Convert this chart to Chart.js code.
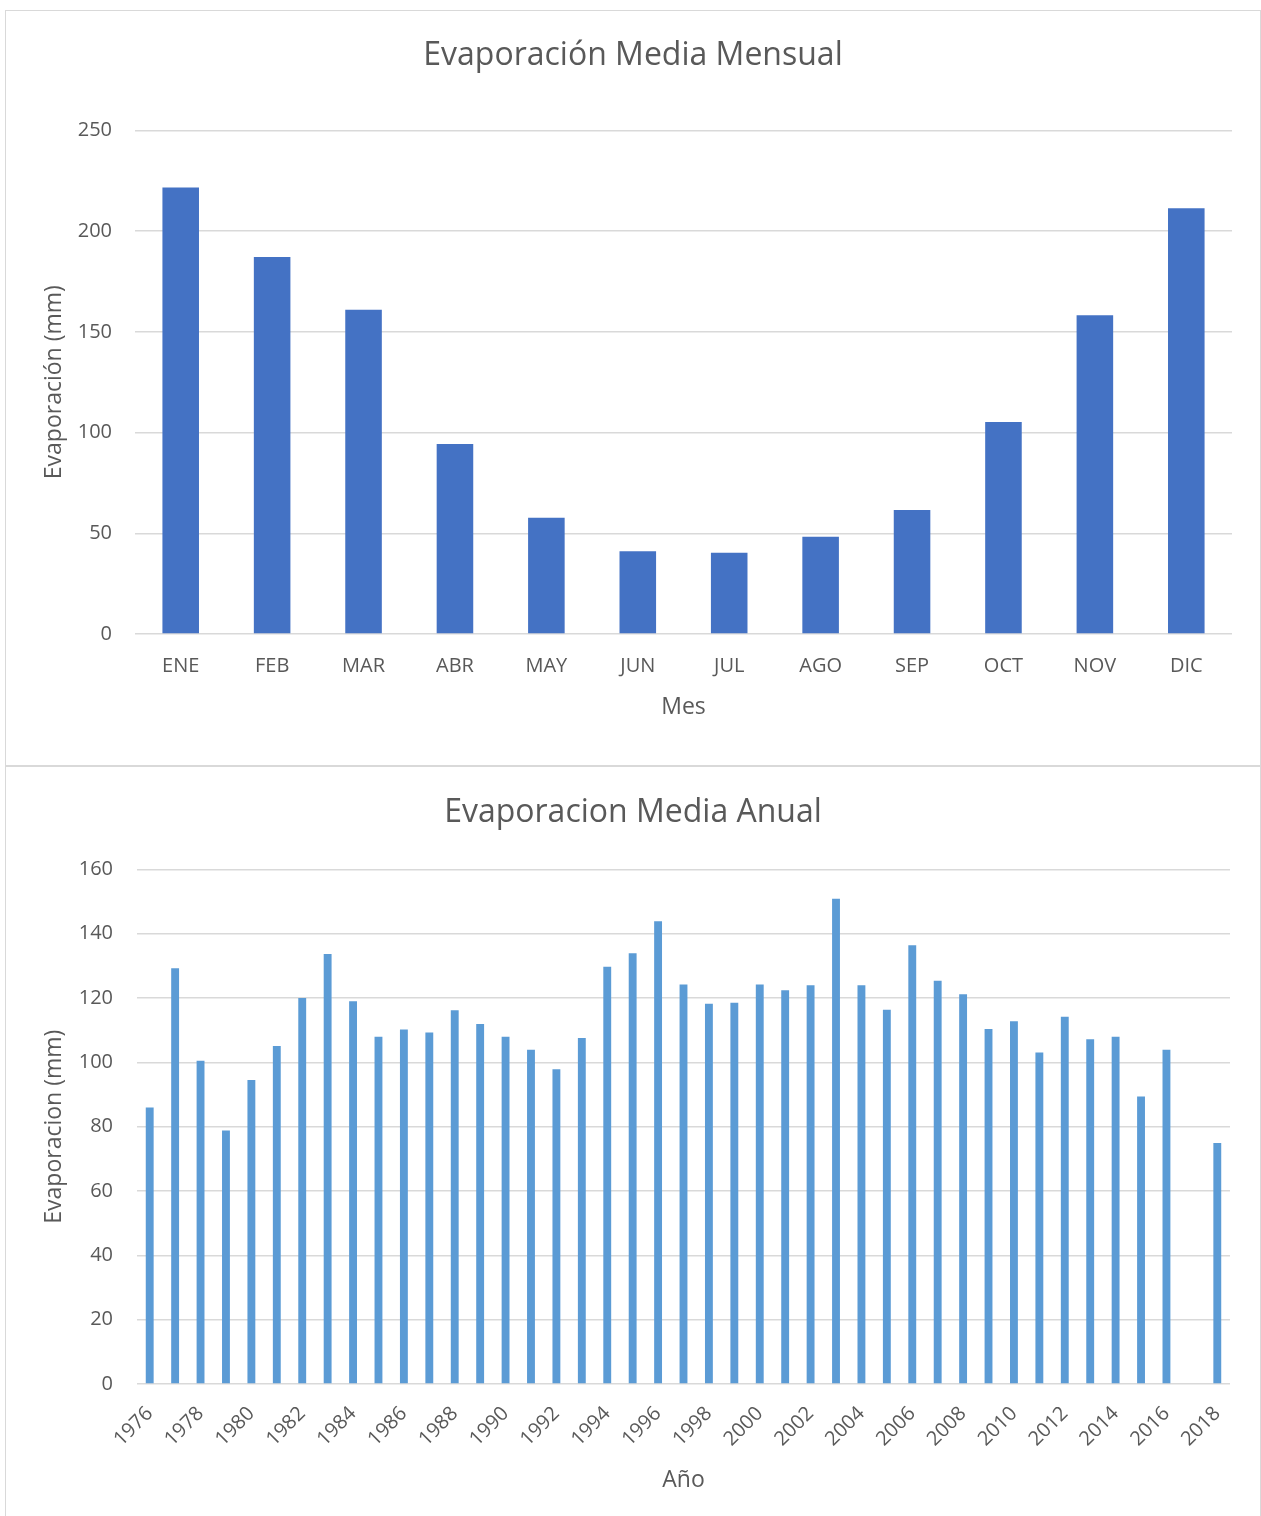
<!DOCTYPE html>
<html>
<head>
<meta charset="utf-8">
<script src="https://cdn.jsdelivr.net/npm/chart.js@4.4.1/dist/chart.umd.min.js"></script>
<style>
  body { margin: 0; background: #fff; }
  .box { position: absolute; left: 5px; width: 1254px; height: 754px; border: 1px solid #d9d9d9; background: #fff; }
  #box1 { top: 10px; }
  #box2 { top: 766px; }
</style>
</head>
<body>
<div class="box" id="box1"><canvas id="mensual" width="1254" height="754"></canvas></div>
<div class="box" id="box2"><canvas id="anual" width="1254" height="754"></canvas></div>
<script>
// Datos mensuales
const meses = ['ENE', 'FEB', 'MAR', 'ABR', 'MAY', 'JUN', 'JUL', 'AGO', 'SEP', 'OCT', 'NOV', 'DIC'];
const evapMensual = [221.6, 187.1, 161.0, 94.3, 57.7, 41.1, 40.3, 48.3, 61.6, 105.2, 158.2, 211.3];
const ticksMensual = [0, 50, 100, 150, 200, 250];

// Datos anuales (2017 sin dato)
const anios = [1976, 1977, 1978, 1979, 1980, 1981, 1982, 1983, 1984, 1985, 1986, 1987, 1988, 1989,
  1990, 1991, 1992, 1993, 1994, 1995, 1996, 1997, 1998, 1999, 2000, 2001, 2002, 2003, 2004, 2005,
  2006, 2007, 2008, 2009, 2010, 2011, 2012, 2013, 2014, 2015, 2016, 2017, 2018];
const evapAnual = [86.0, 129.3, 100.5, 78.8, 94.5, 105.1, 120.0, 133.7, 119.0, 108.0, 110.2, 109.3, 116.2, 111.9,
  108.0, 103.9, 97.9, 107.6, 129.7, 133.9, 143.9, 124.2, 118.2, 118.5, 124.2, 122.4, 124.0, 150.9, 124.0, 116.4,
  136.4, 125.4, 121.2, 110.4, 112.8, 103.1, 114.2, 107.2, 108.0, 89.4, 103.9, null, 74.9];
const ticksAnual = [0, 20, 40, 60, 80, 100, 120, 140, 160];

const FONT = 'Open Sans';
const TEXT = '#595959';
const GRID = '#d9d9d9';

Chart.defaults.font.family = FONT;
Chart.defaults.color = TEXT;
Chart.defaults.animation = false;

function makeChart(id, cfg) {
  const ctx = document.getElementById(id).getContext('2d');
  const xTicks = {
    autoSkip: false,
    maxRotation: cfg.rot,
    minRotation: cfg.rot,
    padding: cfg.xPad,
    font: { size: 20 },
    color: TEXT
  };
  if (cfg.xCallback) xTicks.callback = cfg.xCallback;

  return new Chart(ctx, {
    type: 'bar',
    data: {
      labels: cfg.labels,
      datasets: [{
        data: cfg.values,
        backgroundColor: cfg.color,
        categoryPercentage: 1,
        barPercentage: cfg.barPct
      }]
    },
    options: {
      responsive: false,
      layout: { padding: 0 },
      plugins: {
        legend: { display: false },
        tooltip: { enabled: false },
        title: {
          display: true,
          text: cfg.title,
          color: TEXT,
          font: { size: 32, weight: 'normal' },
          padding: { top: cfg.titleTop, bottom: cfg.titleBottom }
        }
      },
      scales: {
        x: {
          grid: { display: false },
          border: { display: false },
          afterFit: s => { s.height = cfg.xHeight; },
          ticks: xTicks,
          title: {
            display: true,
            text: cfg.xTitle,
            color: TEXT,
            font: { size: 23 },
            padding: { top: 0, bottom: cfg.xTitleBottom }
          }
        },
        y: {
          min: 0,
          max: cfg.ticks[cfg.ticks.length - 1],
          afterBuildTicks: s => { s.ticks = cfg.ticks.map(v => ({ value: v })); },
          afterFit: s => { s.width = cfg.yWidth; },
          grid: { color: GRID, lineWidth: 1.5, drawTicks: false },
          border: { display: false },
          ticks: { padding: cfg.yPad, font: { size: 20 }, color: TEXT },
          title: {
            display: true,
            text: cfg.yTitle,
            color: TEXT,
            font: { size: 23 },
            padding: { top: cfg.yTitleTop, bottom: 0 }
          }
        },
        // empty right margin so the title stays centred on the whole box
        margen: {
          type: 'linear',
          position: 'right',
          display: true,
          grid: { display: false },
          border: { display: false },
          ticks: { display: false },
          afterFit: s => { s.width = cfg.right; }
        }
      }
    }
  });
}

makeChart('mensual', {
  labels: meses,
  values: evapMensual,
  ticks: ticksMensual,
  color: '#4472C4',
  barPct: 0.4,
  title: 'Evaporación Media Mensual',
  titleTop: 26,
  titleBottom: 55,
  right: 28,
  xHeight: 131,
  rot: 0,
  xPad: 12,
  xTitle: 'Mes',
  xTitleBottom: 44,
  yWidth: 129,
  yPad: 23,
  yTitle: 'Evaporación (mm)',
  yTitleTop: 35
});

makeChart('anual', {
  labels: anios,
  values: evapAnual,
  ticks: ticksAnual,
  color: '#5B9BD5',
  barPct: 0.31,
  title: 'Evaporacion Media Anual',
  titleTop: 27,
  titleBottom: 37,
  right: 30,
  xHeight: 137,
  rot: 45,
  xPad: 10,
  xCallback: function (v, i) { return i % 2 === 0 ? this.getLabelForValue(v) : ''; },
  xTitle: 'Año',
  xTitleBottom: 27,
  yWidth: 131,
  yPad: 24,
  yTitle: 'Evaporacion (mm)',
  yTitleTop: 35
});
</script>
</body>
</html>
